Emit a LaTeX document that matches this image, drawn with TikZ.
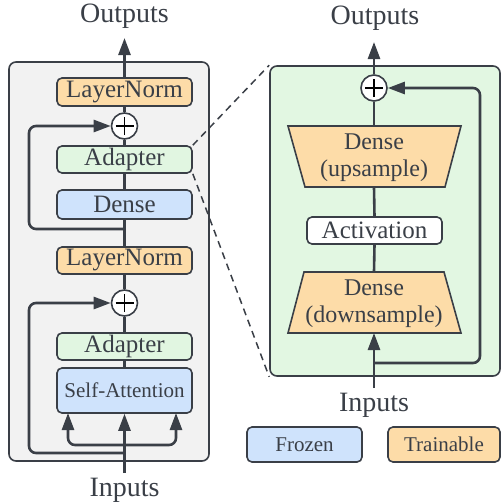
\documentclass[tikz,border=0pt]{standalone}
\usepackage{fontspec}
\setmainfont{Liberation Serif}
\usetikzlibrary{arrows.meta,shapes.geometric}
\definecolor{ink}{HTML}{3A3F47}
\definecolor{panelgray}{HTML}{F2F2F2}
\definecolor{panelgreen}{HTML}{E2F7E2}
\definecolor{orangefill}{HTML}{FDDCA8}
\definecolor{greenfill}{HTML}{E1F6E1}
\definecolor{bluefill}{HTML}{CFE3FC}
\tikzset{
  blk/.style={draw=ink, line width=1.6pt, rounded corners=5pt, text=ink, font=\fontsize{25}{27}\selectfont, inner sep=0pt},
  lnbox/.style={blk, fill=orangefill, minimum width=135pt, minimum height=28pt},
  adbox/.style={blk, fill=greenfill, minimum width=135pt, minimum height=27pt},
  frbox/.style={blk, fill=bluefill, minimum width=135pt},
  plusnode/.style={draw=ink, fill=white, circle, line width=1.6pt, minimum size=26pt, inner sep=0pt,
    path picture={\draw[black, line width=1.5pt] ([xshift=-9pt]path picture bounding box.center) -- ([xshift=9pt]path picture bounding box.center)
      ([yshift=-9pt]path picture bounding box.center) -- ([yshift=9pt]path picture bounding box.center);}},
  conn/.style={draw=ink, line width=2.6pt},
  arr/.style={conn, -{Triangle[length=17pt,width=12pt]}},
  lbl/.style={text=ink, font=\fontsize{28}{30}\selectfont, inner sep=0pt},
  trap/.style={draw=ink, line width=1.6pt, fill=orangefill, line join=miter},
  ttext/.style={text=ink, font=\fontsize{24}{27}\selectfont, align=center, inner sep=0pt, minimum width=140pt, minimum height=61pt},
  dashl/.style={draw=ink, line width=1.5pt, dash pattern=on 7pt off 5pt},
}
\begin{document}
\begin{tikzpicture}[x=1pt,y=-1pt]
\useasboundingbox (0,0) rectangle (502,504);
% panels
\draw[draw=ink, line width=1.6pt, fill=panelgray, rounded corners=7pt] (9,62) rectangle (209,461);
\node[minimum width=230pt, minimum height=310pt, inner sep=0pt, draw=ink, line width=1.6pt, fill=panelgreen, rounded corners=7pt] (panel) at (385,221) {};

% left column
\node[lbl] (outL) at (124.5,16) {Outputs};
\node[lnbox] (ln1) at (124.5,92) {LayerNorm};
\node[plusnode] (p1) at (124.5,126) {};
\node[adbox] (ad1) at (124.5,159.5) {Adapter};
\node[frbox, minimum height=29pt] (dense) at (124.5,204.5) {Dense};
\node[lnbox, minimum height=27pt] (ln2) at (124.5,260.5) {LayerNorm};
\node[plusnode] (p2) at (124.5,303) {};
\node[adbox] (ad2) at (124.5,346.5) {Adapter};
\node[frbox, minimum height=45pt, font=\fontsize{21}{23}\selectfont] (sa) at (124.5,390.5) {Self-Attention};
\node[lbl] (inL) at (124.5,490) {Inputs};
\coordinate (s1) at (124.5,229);
\coordinate (s2) at (124.5,453);
\coordinate (f0) at (124.5,445);

\draw[arr] (ln1.north) -- (124.5,38);
\draw[conn] (p1) -- (ln1.south);
\draw[conn] (ad1.north) -- (p1.south);
\draw[conn] (dense.north) -- (ad1.south);
\draw[conn] (ln2.north) -- (dense.south);
\draw[conn] (p2.north) -- (ln2.south);
\draw[conn] (ad2.north) -- (p2.south);
\draw[conn] (sa.north) -- (ad2.south);
\draw[arr, rounded corners=7pt] (s1) -- (29,229) -- (29,126) -- (p1.west);
\draw[arr, rounded corners=7pt] (s2) -- (29,453) -- (29,303) -- (p2.west);
\draw[arr] (124.5,473) -- (sa.south);
\draw[arr, rounded corners=7pt] (f0) -- (68,445) -- (68,413);
\draw[arr, rounded corners=7pt] (f0) -- (176,445) -- (176,413);

% right column
\path[trap] (288,126) -- (461,126) -- (445,187) -- (305,187) -- cycle;
\path[trap] (304,272) -- (444,272) -- (461,333) -- (288,333) -- cycle;
\node[lbl] (outR) at (375,18) {Outputs};
\node[plusnode] (p3) at (374,88) {};
\node[ttext] (up) at (374,158) {Dense\\(upsample)};
\node[blk, fill=white, minimum width=135pt, minimum height=27pt] (act) at (374.5,230.5) {Activation};
\node[ttext] (down) at (374,304) {Dense\\(downsample)};
\node[lbl] (inR) at (374,405) {Inputs};
\coordinate (s3) at (374,363);

\draw[arr] (p3.north) -- (374,42);
\draw[conn] (374,126) -- (p3.south);
\draw[conn] (act.north) -- (374,187);
\draw[conn] (374,272) -- (act.south);
\draw[arr] (374,388) -- (374,333);
\draw[arr, rounded corners=7pt] (s3) -- (480,363) -- (480,88) -- (p3.east);

% dashed zoom lines
\draw[dashl] (ad1.north east) -- (panel.north west);
\draw[dashl] (ad1.south east) -- (panel.south west);

% legend
\node[frbox, minimum width=115pt, minimum height=35pt, font=\fontsize{21}{23}\selectfont] (frozen) at (304.5,444.5) {Frozen};
\node[blk, fill=orangefill, minimum width=112pt, minimum height=35pt, font=\fontsize{21}{23}\selectfont] (train) at (444,444.5) {Trainable};
\end{tikzpicture}
\end{document}
